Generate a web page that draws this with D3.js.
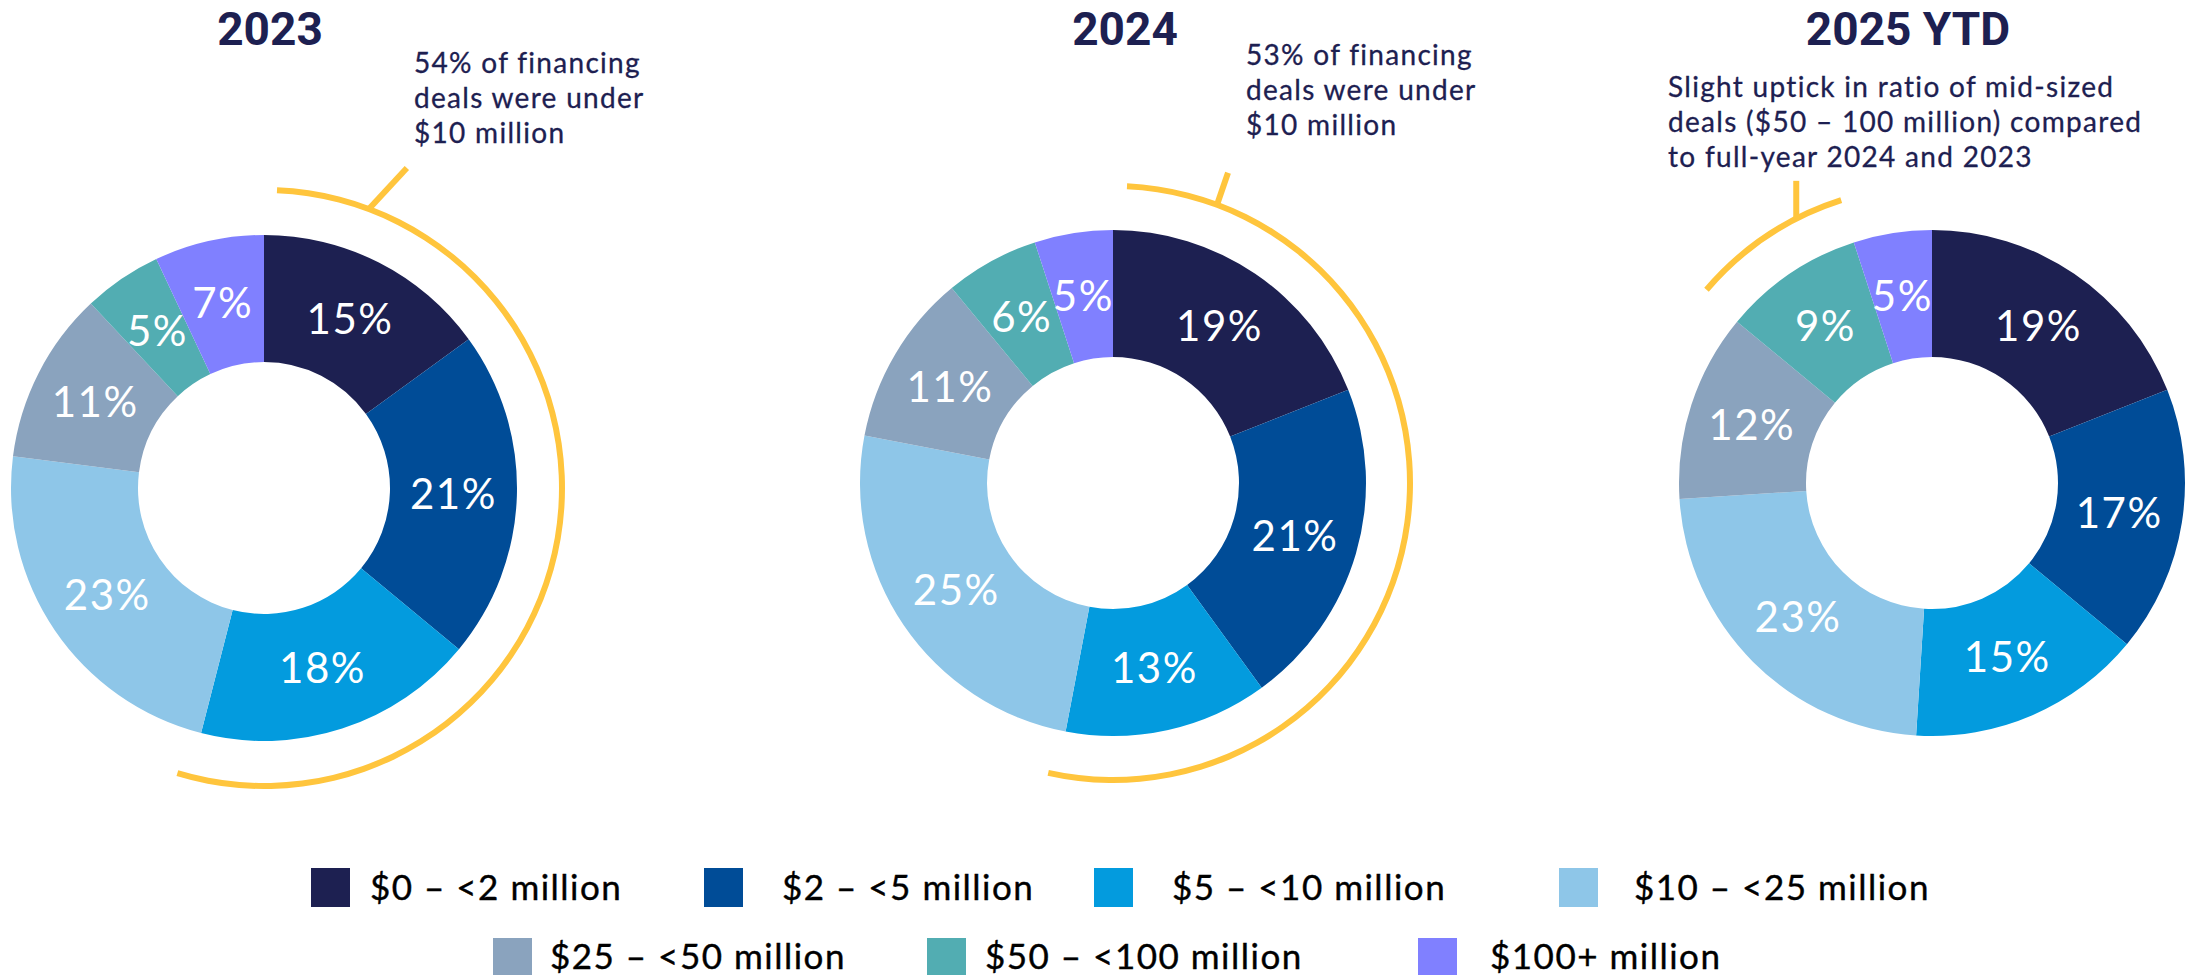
<!DOCTYPE html>
<html>
<head>
<meta charset="utf-8">
<script src="https://cdn.jsdelivr.net/npm/d3@7"></script>
<style>
    body { margin: 0; background: #fff; }
    .donut-label { font-family: Lato, "Open Sans", sans-serif; fill: #fff; letter-spacing: 1.5px; }
    .donut-title { font-family: Roboto, sans-serif; font-weight: 700; fill: #1d2051; }
    .note-text { font-family: Lato, "Open Sans", sans-serif; fill: #1d2051; letter-spacing: 1.3px;
        stroke: #1d2051; stroke-width: 0.3px; }
    .legend-label { font-family: Lato, "Open Sans", sans-serif; fill: #000; letter-spacing: 1.5px;
        stroke: #000; stroke-width: 0.4px; }
</style>
</head>
<body>
<div id="chart-area"></div>
<script>

// Deal size buckets
var categories = ["$0 – <2 million", "$2 – <5 million", "$5 – <10 million", "$10 – <25 million",
    "$25 – <50 million", "$50 – <100 million", "$100+ million"];

var colors = ["#1d2051", "#004c97", "#039bde", "#8ec6e8", "#8aa3be", "#52adb2", "#8080ff"];

// Share of financing deals (%) per year
var years = ["2023", "2024", "2025 YTD"];
var values2023 = [15, 21, 18, 23, 11, 5, 7];
var values2024 = [19, 21, 13, 25, 11, 6, 5];
var values2025 = [19, 17, 15, 23, 12, 9, 5];

// Callout notes
var notes2023 = ["54% of financing", "deals were under", "$10 million"];
var notes2024 = ["53% of financing", "deals were under", "$10 million"];
var notes2025 = ["Slight uptick in ratio of mid-sized", "deals ($50 – 100 million) compared", "to full-year 2024 and 2023"];

var colorScale = d3.scaleOrdinal().domain(categories).range(colors);

var W = 2189, H = 975;

var svg = d3.select("#chart-area").append("svg")
    .attr("width", W)
    .attr("height", H);

/*
 * DonutChart - one year of deal sizes with its yellow callout
 */
DonutChart = function(_svg, _title, _values, _notes, _opts) {
    this.svg = _svg;
    this.title = _title;
    this.values = _values;
    this.notes = _notes;
    this.opts = _opts;

    this.initVis();
};

DonutChart.prototype.initVis = function() {
    var vis = this;
    var o = vis.opts;

    vis.g = vis.svg.append("g")
        .attr("transform", "translate(" + o.cx + "," + o.cy + ")");

    vis.pie = d3.pie().sort(null).value(function(d) { return d.value; });
    vis.arc = d3.arc().innerRadius(126).outerRadius(253);

    vis.displayData = vis.values.map(function(v, i) {
        return { key: categories[i], value: v };
    });

    vis.updateVis();
};

DonutChart.prototype.updateVis = function() {
    var vis = this;
    var o = vis.opts;
    var arcs = vis.pie(vis.displayData);

    vis.g.selectAll(".slice")
        .data(arcs)
        .enter()
        .append("path")
        .attr("class", "slice")
        .attr("d", vis.arc)
        .attr("fill", function(d) { return colorScale(d.data.key); });

    vis.g.selectAll(".donut-label")
        .data(arcs)
        .enter()
        .append("text")
        .attr("class", "donut-label")
        .attr("x", function(d) { return vis.arc.centroid(d)[0]; })
        .attr("y", function(d) { return vis.arc.centroid(d)[1]; })
        .attr("dy", "0.36em")
        .attr("text-anchor", "middle")
        .style("font-size", "42px")
        .text(function(d) { return d.data.value + "%"; });

    // Title
    vis.svg.append("text")
        .attr("class", "donut-title")
        .attr("x", o.titleX)
        .attr("y", 45)
        .attr("text-anchor", "middle")
        .style("font-size", "46px")
        .text(vis.title);

    // Yellow callout arc spanning the highlighted slices
    var a0 = arcs[o.hl[0]].startAngle + o.pad[0] * Math.PI / 180;
    var a1 = arcs[o.hl[1]].endAngle + o.pad[1] * Math.PI / 180;
    var callout = d3.arc().innerRadius(o.r - 3).outerRadius(o.r + 3)
        .startAngle(a0).endAngle(a1);

    vis.g.append("path")
        .attr("d", callout())
        .attr("fill", "#ffc53d");

    var ta = o.tickAngle * Math.PI / 180;
    var tx = o.r * Math.sin(ta), ty = -o.r * Math.cos(ta);
    vis.g.append("line")
        .attr("x1", tx).attr("y1", ty)
        .attr("x2", tx + o.tick[0]).attr("y2", ty + o.tick[1])
        .attr("stroke", "#ffc53d")
        .attr("stroke-width", 6);

    vis.svg.append("g").selectAll("text")
        .data(vis.notes)
        .enter()
        .append("text")
        .attr("class", "note-text")
        .attr("x", o.noteX)
        .attr("y", function(d, i) { return o.noteY + i * 35; })
        .style("font-size", "28px")
        .text(function(d) { return d; });
};

new DonutChart(svg, years[0], values2023, notes2023, {
    cx: 264, cy: 488, titleX: 270, hl: [0, 2], pad: [2.5, 2.5], r: 298,
    tickAngle: 20.6, tick: [38, -41], noteX: 414, noteY: 73
});
new DonutChart(svg, years[1], values2024, notes2024, {
    cx: 1113, cy: 483, titleX: 1125, hl: [0, 2], pad: [2.7, 1.8], r: 297,
    tickAngle: 20.5, tick: [11, -32], noteX: 1246, noteY: 65
});
new DonutChart(svg, years[2], values2025, notes2025, {
    cx: 1932, cy: 483, titleX: 1908, hl: [5, 5], pad: [1, 0.2], r: 297,
    tickAngle: -27.2, tick: [0, -38], noteX: 1668, noteY: 97
});

// Legend (two rows)
var legendPos = [[311, 370, 0], [704, 782, 0], [1094, 1172, 0], [1559, 1634, 0],
    [493, 550, 1], [927, 985, 1], [1418, 1490, 1]];

var legend = svg.append("g").attr("class", "legend");

legend.selectAll("rect")
    .data(categories)
    .enter()
    .append("rect")
    .attr("x", function(d, i) { return legendPos[i][0]; })
    .attr("y", function(d, i) { return 868 + legendPos[i][2] * 70; })
    .attr("width", 39)
    .attr("height", 39)
    .attr("fill", function(d) { return colorScale(d); });

legend.selectAll("text")
    .data(categories)
    .enter()
    .append("text")
    .attr("class", "legend-label")
    .attr("x", function(d, i) { return legendPos[i][1]; })
    .attr("y", function(d, i) { return 900 + legendPos[i][2] * 69; })
    .style("font-size", "35px")
    .text(function(d) { return d; });

</script>
</body>
</html>
